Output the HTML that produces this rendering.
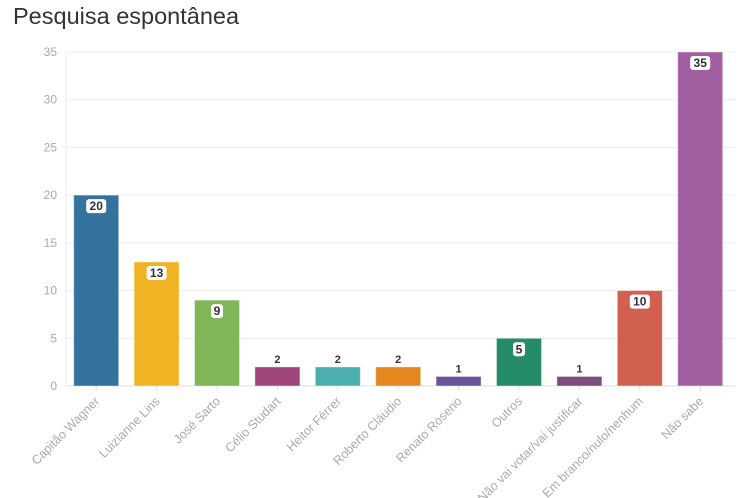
<!DOCTYPE html>
<html><head><meta charset="utf-8"><style>
body{margin:0;background:#fff;font-family:"Liberation Sans",sans-serif;}
svg{display:block}
</style></head><body>
<svg id="c" width="750" height="498">
<text x="13" y="24" font-size="23.5" fill="#333">Pesquisa espontânea</text>
</svg>
<script>
const categories=["Capitão Wagner","Luizianne Lins","José Sarto","Célio Studart","Heitor Férrer","Roberto Cláudio","Renato Roseno","Outros","Não vai votar/vai justificar","Em branco/nulo/nenhum","Não sabe"];
const values=[20,13,9,2,2,2,1,5,1,10,35];
const colors=["#33739e","#f0b323","#7fb657","#a0467a","#4bb0ad","#e5871f","#6a559c","#258c67","#7b4d7e","#d26050","#a05fa0"];
const yTicks=[0,5,10,15,20,25,30,35];
const svg=document.getElementById('c');const NS="http://www.w3.org/2000/svg";
const x0=66,band=60.4,bw=45,yb=386,yt=52,ymax=35;
const y=v=>yb-(v/ymax)*(yb-yt);
const xc=i=>x0+band*(i+0.5);
function mk(t,a){const e=document.createElementNS(NS,t);for(const k in a)e.setAttribute(k,a[k]);svg.appendChild(e);return e;}
yTicks.forEach(t=>{
 const l=mk('line',{x1:x0,x2:735,y1:y(t),y2:y(t),stroke:t?'#ececec':'#ddd'});
 
 
 const tx=mk('text',{x:57,y:y(t)+4,'text-anchor':'end','font-size':12,fill:'#aaa'});tx.textContent=t;
 
 
});
const ax=mk('line',{x1:x0,x2:x0,y1:yt,y2:yb,stroke:'#ececec'});


values.forEach((v,i)=>{
 const cx=xc(i);
 const r=mk('rect',{x:cx-bw/2,y:y(v),width:bw,height:yb-y(v),fill:colors[i],stroke:'#fff','stroke-opacity':0.4});
 
 
 if(v>=5){
  const w=String(v).length*8+4;
  const b=mk('rect',{x:cx-w/2,y:y(v)+4,width:w,height:14,rx:3,fill:'#fff'});
  
  
  const t=mk('text',{x:cx,y:y(v)+15,'text-anchor':'middle','font-size':12,'font-weight':'bold',fill:'#333'});t.textContent=v;
  
  
 }else{
  const t=mk('text',{x:cx,y:y(v)-4,'text-anchor':'middle','font-size':11,'font-weight':'bold',fill:'#333'});t.textContent=v;
  
  
 }
 const tk=mk('line',{x1:cx,x2:cx,y1:yb,y2:yb+5,stroke:'#ddd'});
 
 
 const lb=mk('text',{x:cx+4,y:yb+16,'text-anchor':'end','font-size':12.5,fill:'#aaa',transform:`rotate(-45 ${cx+4} ${yb+16})`});
 lb.textContent=categories[i];
 
 
});
</script>
</body></html>
